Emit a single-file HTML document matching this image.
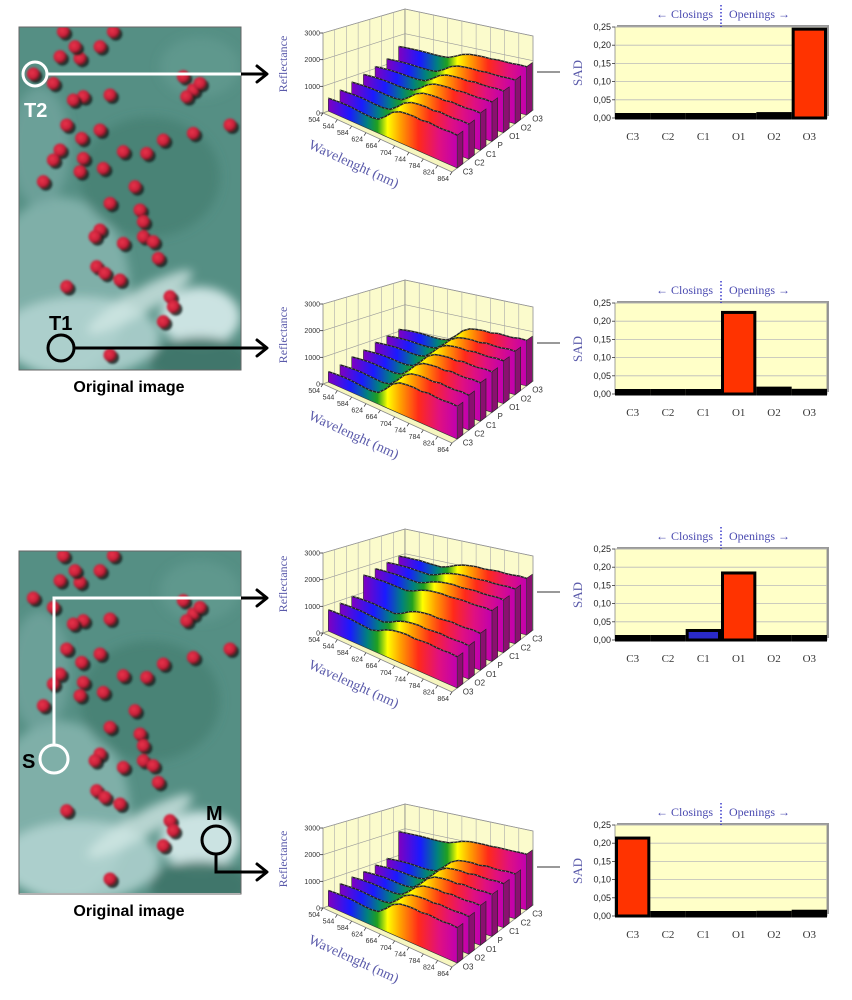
<!DOCTYPE html>
<html><head><meta charset="utf-8"><style>
html,body{margin:0;padding:0;background:#fff;width:852px;height:1000px;overflow:hidden}
svg{display:block;font-family:"Liberation Sans",sans-serif}
</style></head><body>
<svg id="fig" width="852" height="1000" viewBox="0 0 852 1000">
<defs>
<radialGradient id="dotg" cx="0.4" cy="0.4" r="0.6"><stop offset="0" stop-color="#e8344a"/><stop offset="0.7" stop-color="#c8203a"/><stop offset="1" stop-color="#5a1a20"/></radialGradient>
<filter id="blur4"><feGaussianBlur stdDeviation="5"/></filter>
<filter id="blur1"><feGaussianBlur stdDeviation="1"/></filter>
<clipPath id="clipImg1"><rect x="19" y="27" width="222" height="343"/></clipPath>
<clipPath id="clipImg2"><rect x="19" y="551" width="222" height="342"/></clipPath>
</defs>
<g id="images"></g>
<g id="charts3d"></g>
<g id="bars"></g>
</svg>
<script>
// ---------- Bar chart data ----------
const barCategories = ["C3","C2","C1","O1","O2","O3"];
const sadT2 = [0.002,0.002,0.004,0.003,0.008,0.24];
const sadT1 = [0.001,0.001,0.003,0.22,0.012,0.006];
const sadS  = [0.001,0.003,0.022,0.18,0.002,0.001];
const sadM  = [0.21,0.002,0.001,0.002,0.006,0.009];
const sadColorsS = ["#ff3300","#ff3300","#2a2ac8","#ff3300","#ff3300","#ff3300"];
const sadTicks = ["0,00","0,05","0,10","0,15","0,20","0,25"];
const sadTickValues = [0,0.05,0.10,0.15,0.20,0.25];

// ---------- 3D spectra data ----------
const wavelengthTicks = ["504","544","584","624","664","704","744","784","824","864"];
const reflTicks = ["0","1000","2000","3000"];
const reflTickValues = [0,1000,2000,3000];
const seriesFrontToBackA = ["C3","C2","C1","P","O1","O2","O3"];
const seriesFrontToBackB = ["O3","O2","O1","P","C1","C2","C3"];
// normalized spectral profiles (504..864 nm step 20)
const shapeVeg  = [0.05,0.08,0.1,0.1,0.08,0.05,0.04,0.1,0.38,0.72,0.9,0.95,0.97,0.94,1,0.97,0.96,1,0.98];
const shapeSoil = [0.2,0.25,0.25,0.25,0.2,0.15,0.1,0.3,0.6,0.8,0.9,0.95,0.9,0.95,1,0.95,0.95,1,0.95];
const lowT2  = [450,600,750,900,1050,1200,1550];
const highT2 = [1250,1350,1450,1550,1650,1750,1950];
const lowT1  = [350,450,600,700,850,950,1050];
const highT1 = [1250,1350,1500,1600,1700,1750,1850];
const lowS   = [700,800,900,1600,1700,1800,1900];
const highS  = [1200,1300,1450,2000,2100,2200,2300];
const lowM   = [550,650,750,800,900,1000,1950];
const highM  = [1350,1450,1550,1650,1750,1800,2250];

const NS='http://www.w3.org/2000/svg';
function el(tag,attrs,parent,txt){const e=document.createElementNS(NS,tag);for(const k in attrs)e.setAttribute(k,attrs[k]);if(txt!==undefined)e.textContent=txt;parent.appendChild(e);return e;}

// ---------- Images ----------
const imgG=document.getElementById('images');
const dotsZ=[[180,170],[240,175],[300,140],[190,95],[340,95],[100,222],[160,250],[250,290],[220,300],[330,285],[550,230],[580,270],[600,250],[560,290],[200,375],[300,390],[245,415],[490,420],[180,450],[160,480],[370,455],[440,460],[250,475],[240,515],[310,505],[130,545],[405,560],[330,610],[420,630],[430,665],[300,690],[285,710],[370,730],[430,710],[460,725],[475,775],[290,800],[315,820],[360,840],[200,860],[510,890],[520,920],[490,965],[330,1065],[580,400],[690,375],[225,140]];
function drawImage(top,clip,name){
  const g=el('g',{'clip-path':'url(#'+clip+')'},imgG);
  
  
  el('rect',{x:19,y:top,width:222,height:343,fill:'#558f84'},g);
  const f=el('g',{filter:'url(#blur4)'},g);
  el('ellipse',{cx:60,cy:top+260,rx:70,ry:90,fill:'#8ab8b2',opacity:0.8},f);
  el('ellipse',{cx:80,cy:top+310,rx:80,ry:40,fill:'#b8d8d6',opacity:0.8},f);
  el('ellipse',{cx:200,cy:top+290,rx:40,ry:30,fill:'#d8ecec',opacity:0.9},f);
  el('ellipse',{cx:140,cy:top+275,rx:60,ry:12,fill:'#cfe6e4',opacity:0.8,transform:`rotate(-30 140 ${top+275})`},f);
  el('ellipse',{cx:200,cy:top+335,rx:50,ry:25,fill:'#3f7468',opacity:0.9},f);
  el('ellipse',{cx:150,cy:top+150,rx:70,ry:60,fill:'#3f7a6c',opacity:0.6},f);
  el('ellipse',{cx:40,cy:top+120,rx:30,ry:60,fill:'#7aaaa5',opacity:0.6},f);
  el('ellipse',{cx:200,cy:top+40,rx:40,ry:30,fill:'#6aa096',opacity:0.5},f);
  const dg=el('g',{filter:'url(#blur1)'},g);
  dotsZ.forEach(d=>{const x=d[0]/3,y=d[1]/3-27+top;
    el('circle',{cx:x+2.5,cy:y+2.5,r:6.5,fill:'#14201e',opacity:0.85},dg);
    el('circle',{cx:x,cy:y,r:6.5,fill:'url(#dotg)'},dg);});
  el('rect',{x:19,y:top,width:222,height:343,fill:'none',stroke:'#666',
    'stroke-width':1},imgG);
}
drawImage(27,'clipImg1','original-image-top');
drawImage(551,'clipImg2','original-image-bottom');
function arrowHead(x,y,color,parent){el('path',{d:`M${x-10},${y-8} L${x},${y} L${x-10},${y+8}`,fill:'none',stroke:color,'stroke-width':3,'stroke-linecap':'round','stroke-linejoin':'round'},parent);}
const ann=el('g',{},imgG);


el('circle',{cx:35,cy:74,r:12,fill:'none',stroke:'#fff','stroke-width':3},ann);
el('line',{x1:48,y1:74,x2:241,y2:74,stroke:'#fff','stroke-width':3},ann);
el('line',{x1:241,y1:74,x2:266,y2:74,stroke:'#000','stroke-width':3},ann);
arrowHead(267,74,'#000',ann);
el('text',{x:24,y:117,fill:'#fff','font-size':20,'font-weight':'bold'},ann,'T2');
el('circle',{cx:61,cy:348,r:13,fill:'none',stroke:'#000','stroke-width':3},ann);
el('line',{x1:74,y1:348,x2:266,y2:348,stroke:'#000','stroke-width':3},ann);
arrowHead(267,348,'#000',ann);
el('text',{x:49,y:330,fill:'#000','font-size':20,'font-weight':'bold'},ann,'T1');
el('text',{x:129,y:392,fill:'#000','font-size':16,'font-weight':'bold','text-anchor':'middle'},ann,'Original image');
el('circle',{cx:54,cy:759,r:14,fill:'none',stroke:'#fff','stroke-width':3},ann);
el('polyline',{points:'54,745 54,598 241,598',fill:'none',stroke:'#fff','stroke-width':3},ann);
el('line',{x1:241,y1:598,x2:266,y2:598,stroke:'#000','stroke-width':3},ann);
arrowHead(267,598,'#000',ann);
el('text',{x:22,y:768,fill:'#000','font-size':20,'font-weight':'bold'},ann,'S');
el('circle',{cx:216,cy:840,r:14,fill:'none',stroke:'#000','stroke-width':3},ann);
el('polyline',{points:'216,854 216,872 266,872',fill:'none',stroke:'#000','stroke-width':3},ann);
arrowHead(267,872,'#000',ann);
el('text',{x:206,y:820,fill:'#000','font-size':20,'font-weight':'bold'},ann,'M');
el('text',{x:129,y:916,fill:'#000','font-size':16,'font-weight':'bold','text-anchor':'middle'},ann,'Original image');

// ---------- 3D charts ----------
const g3=document.getElementById('charts3d');
const nW=shapeVeg.length;
function make3D(oy,shape,lows,highs,labels,name){
  const g=el('g',{},g3);
  
  
  const FL=[323,113+oy],FR=[452,172+oy],BL=[405,83+oy],BR=[533,110+oy];
  function P(w,d,z){
    const x=(1-w)*(1-d)*FL[0]+w*(1-d)*FR[0]+(1-w)*d*BL[0]+w*d*BR[0];
    const y=(1-w)*(1-d)*FL[1]+w*(1-d)*FR[1]+(1-w)*d*BL[1]+w*d*BR[1];
    const h=(80-6*d)*z/3000;return [x,y-h];}
  const pt=p=>p[0].toFixed(1)+','+p[1].toFixed(1);
  el('polygon',{points:[P(0,0,0),P(0,1,0),P(0,1,3000),P(0,0,3000)].map(pt).join(' '),fill:'#fbfbcc',stroke:'#888','stroke-width':0.8},g);
  el('polygon',{points:[P(0,1,0),P(1,1,0),P(1,1,3000),P(0,1,3000)].map(pt).join(' '),fill:'#fbfbcc',stroke:'#888','stroke-width':0.8},g);
  el('polygon',{points:[P(0,0,0),P(1,0,0),P(1,1,0),P(0,1,0)].map(pt).join(' '),fill:'#f6f6c0',stroke:'#888','stroke-width':0.8},g);
  reflTickValues.forEach((v,i)=>{
    el('polyline',{points:[P(0,0,v),P(0,1,v),P(1,1,v)].map(pt).join(' '),fill:'none',stroke:'#999','stroke-width':0.6},g);
    const p=P(0,0,v);
    el('line',{x1:p[0]-3,y1:p[1],x2:p[0],y2:p[1],stroke:'#333','stroke-width':0.8},g);
    el('text',{x:p[0]-3,y:p[1]+2.5,'font-size':7,fill:'#333','text-anchor':'end'},g,reflTicks[i]);
  });
  for(let i=1;i<10;i++){const a=P(i/9,1,0),b=P(i/9,1,3000);el('line',{x1:a[0],y1:a[1],x2:b[0],y2:b[1],stroke:'#aaa','stroke-width':0.6},g);}
  for(let i=1;i<7;i++){const a=P(0,i/7,0),b=P(0,i/7,3000);el('line',{x1:a[0],y1:a[1],x2:b[0],y2:b[1],stroke:'#aaa','stroke-width':0.6},g);}
  for(let s=lows.length-1;s>=0;s--){
    const d=(s+0.45)/7, dd=0.07;
    const vals=shape.map(v=>lows[s]+(highs[s]-lows[s])*v);
    const x1=P(0,d,0)[0],x2=P(1,d,0)[0];
    const gid='rg'+oy+'_'+s;
    const lg=el('linearGradient',{id:gid,gradientUnits:'userSpaceOnUse',x1:x1,y1:0,x2:x2,y2:0},g);
    [[0,'#8000c0'],[0.17,'#1a1aff'],[0.3,'#008080'],[0.38,'#20a020'],[0.46,'#ffff00'],[0.56,'#ffa000'],[0.7,'#ff2a1a'],[0.86,'#e01080'],[1,'#c000b0']].forEach(c=>el('stop',{offset:c[0],'stop-color':c[1]},lg));
    const last=vals[nW-1];
    el('polygon',{points:[P(1,d,0),P(1,d+dd,0),P(1,d+dd,last),P(1,d,last)].map(pt).join(' '),fill:'#8a1070',stroke:'#222','stroke-width':0.6},g);
    const top=vals.map((v,i)=>P(i/(nW-1),d,v));
    const poly=top.concat([P(1,d,0),P(0,d,0)]);
    const r=el('polygon',{points:poly.map(pt).join(' '),fill:`url(#${gid})`,stroke:'#333','stroke-width':0.6},g);
    
    
    el('polyline',{points:top.map(pt).join(' '),fill:'none',stroke:'#222','stroke-width':1.4},g);
    el('polyline',{points:top.map(pt).join(' '),fill:'none',stroke:'#ccc','stroke-width':0.6,'stroke-dasharray':'1 3'},g);
  }
  wavelengthTicks.forEach((t,i)=>{const p=P(i/9,0,0);
    el('line',{x1:p[0],y1:p[1],x2:p[0]-2,y2:p[1]+3,stroke:'#333','stroke-width':0.7},g);
    el('text',{x:p[0]-3,y:p[1]+9,'font-size':7,fill:'#333','text-anchor':'end'},g,t);});
  labels.forEach((t,s)=>{const p=P(1,(s+0.5)/7,0);
    el('text',{x:p[0]+5,y:p[1]+7,'font-size':8,fill:'#333'},g,t);});
  el('text',{x:0,y:0,'font-size':12,fill:'#5a5aaa','font-family':'Liberation Serif, serif','text-anchor':'middle',transform:`translate(287 ${64+oy}) rotate(-90)`},g,'Reflectance');
  el('text',{x:0,y:0,'font-size':14,fill:'#5a5aaa','font-family':'Liberation Serif, serif','text-anchor':'middle',transform:`translate(352 ${168+oy}) rotate(24.5)`},g,'Wavelenght (nm)');
  el('line',{x1:537,y1:72+oy,x2:560,y2:72+oy,stroke:'#333','stroke-width':1},g);
}
make3D(0,shapeVeg,lowT2,highT2,seriesFrontToBackA,'spectra-3d-t2');
make3D(271,shapeVeg,lowT1,highT1,seriesFrontToBackA,'spectra-3d-t1');
make3D(520,shapeSoil,lowS,highS,seriesFrontToBackB,'spectra-3d-s');
make3D(795,shapeVeg,lowM,highM,seriesFrontToBackB,'spectra-3d-m');

// ---------- Bar charts ----------
const gb=document.getElementById('bars');
function makeBars(top,values,colors,name){
  const g=el('g',{},gb);
  
  
  const L=615,R=827,H=91,B=top+H,W=(R-L)/values.length;
  const y=v=>B-v/0.25*H;
  el('rect',{x:L+2,y:top-2,width:R-L,height:H,fill:'#999'},g);
  el('rect',{x:L,y:top,width:R-L,height:H,fill:'#ffffc8',stroke:'#888','stroke-width':0.8},g);
  sadTickValues.forEach((v,i)=>{
    if(i>0)el('line',{x1:L,y1:y(v),x2:R,y2:y(v),stroke:'#bbb','stroke-width':0.8},g);
    el('line',{x1:L-3,y1:y(v),x2:L,y2:y(v),stroke:'#333','stroke-width':0.8},g);
    el('text',{x:L-4,y:y(v)+3,'font-size':9,fill:'#222','text-anchor':'end'},g,sadTicks[i]);
  });
  values.forEach((v,i)=>{
    const x=L+i*W;
    const h=Math.max(B-y(v),2);
    const fill=h<6?'#000':(colors?colors[i]:'#ff3300');
    const b=el('rect',{x:x+1.5,y:B-h-1.5,width:W-3,height:h+1.5,fill:fill,stroke:'#000','stroke-width':3},g);
    
    
    el('text',{x:x+W/2,y:B+22,'font-size':11,fill:'#333','text-anchor':'middle','font-family':'Liberation Serif, serif'},g,barCategories[i]);
  });
  el('text',{x:0,y:0,'font-size':13,fill:'#5a5aaa','font-family':'Liberation Serif, serif','text-anchor':'middle',transform:`translate(582 ${top+46}) rotate(-90)`},g,'SAD');
  const mid=L+3*W;
  el('line',{x1:mid,y1:top-22,x2:mid,y2:top,stroke:'#3a3acc','stroke-width':1.5,'stroke-dasharray':'1.5 2'},g);
  el('text',{x:mid-8,y:top-9,'font-size':12,fill:'#4a4ab0','text-anchor':'end','font-family':'Liberation Serif, serif'},g,'← Closings');
  el('text',{x:mid+8,y:top-9,'font-size':12,fill:'#4a4ab0','font-family':'Liberation Serif, serif'},g,'Openings →');
}
makeBars(27,sadT2,null,'sad-chart-t2');
makeBars(303,sadT1,null,'sad-chart-t1');
makeBars(549,sadS,sadColorsS,'sad-chart-s');
makeBars(825,sadM,null,'sad-chart-m');
</script>
</body></html>
